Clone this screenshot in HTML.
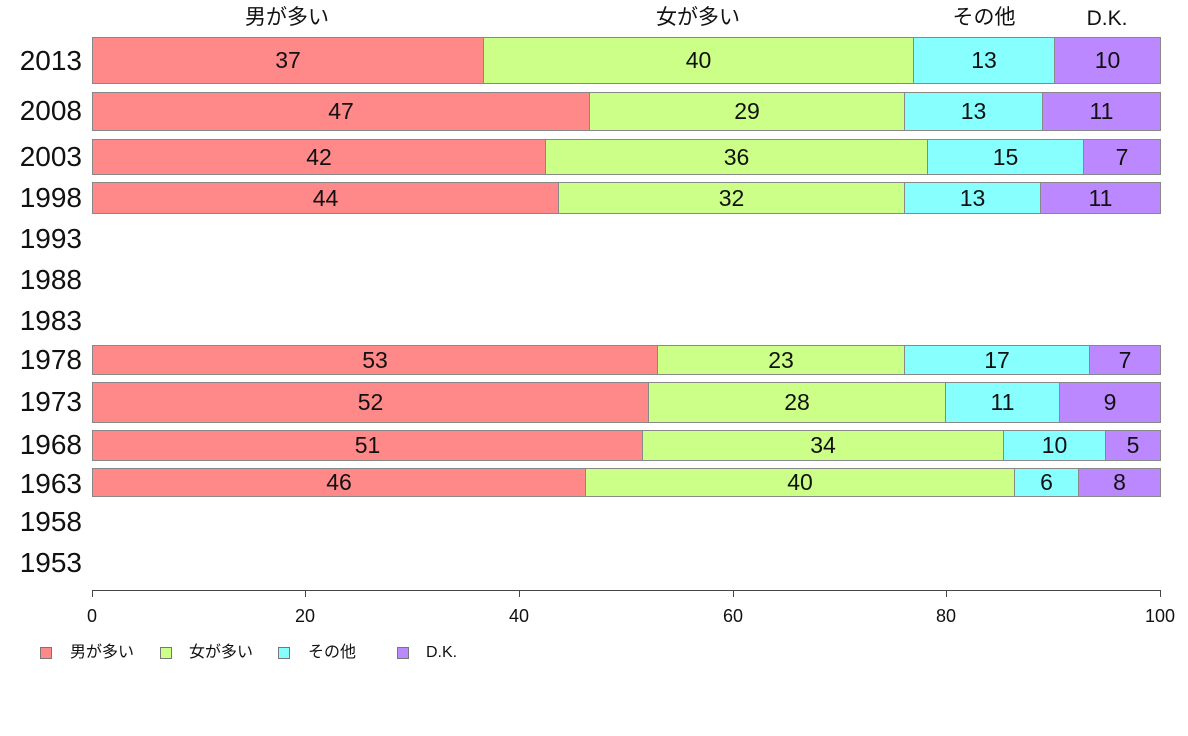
<!DOCTYPE html>
<html><head><meta charset="utf-8"><style>
body{margin:0;width:1188px;height:736px;background:#fff;position:relative;font-family:"Liberation Sans","Noto Sans CJK JP",sans-serif;overflow:hidden}
.a{position:absolute}
.yr{position:absolute;left:0;width:82px;text-align:right;font-size:28px;line-height:30px;color:#111}
.s{position:absolute;box-sizing:border-box;border:1px solid #888;font-size:23px;color:#111;display:flex;align-items:center;justify-content:center}
.r{background:#ff8888}.g{background:#ccff88}.c{background:#88ffff}.p{background:#bb88ff}
.hd{position:absolute;top:4px;height:28px;line-height:28px;font-size:21px;transform:translateX(-50%);color:#111}
.tk{position:absolute;top:590px;width:1px;height:7px;background:#444}
.tl{position:absolute;top:606px;font-size:18px;transform:translateX(-50%);color:#111}
.lg{position:absolute;top:647px;width:12px;height:12px;border:1px solid #777;box-sizing:border-box}
.lt{position:absolute;top:643px;height:20px;line-height:20px;font-size:16px;color:#111}
</style></head><body>
<div class="hd" style="left:287px">男が多い</div>
<div class="hd" style="left:698px">女が多い</div>
<div class="hd" style="left:984px">その他</div>
<div class="hd" style="left:1107px;top:5px">D.K.</div>

<div class="yr" style="top:46px">2013</div>
<div class="yr" style="top:96px">2008</div>
<div class="yr" style="top:142px">2003</div>
<div class="yr" style="top:183px">1998</div>
<div class="yr" style="top:224px">1993</div>
<div class="yr" style="top:265px">1988</div>
<div class="yr" style="top:306px">1983</div>
<div class="yr" style="top:345px">1978</div>
<div class="yr" style="top:387px">1973</div>
<div class="yr" style="top:430px">1968</div>
<div class="yr" style="top:469px">1963</div>
<div class="yr" style="top:507px">1958</div>
<div class="yr" style="top:548px">1953</div>

<div class="s r" style="left:92px;width:392px;top:37px;height:47px">37</div>
<div class="s g" style="left:483px;width:431px;top:37px;height:47px">40</div>
<div class="s c" style="left:913px;width:142px;top:37px;height:47px">13</div>
<div class="s p" style="left:1054px;width:107px;top:37px;height:47px">10</div>
<div class="s r" style="left:92px;width:498px;top:92px;height:39px">47</div>
<div class="s g" style="left:589px;width:316px;top:92px;height:39px">29</div>
<div class="s c" style="left:904px;width:139px;top:92px;height:39px">13</div>
<div class="s p" style="left:1042px;width:119px;top:92px;height:39px">11</div>
<div class="s r" style="left:92px;width:454px;top:139px;height:36px">42</div>
<div class="s g" style="left:545px;width:383px;top:139px;height:36px">36</div>
<div class="s c" style="left:927px;width:157px;top:139px;height:36px">15</div>
<div class="s p" style="left:1083px;width:78px;top:139px;height:36px">7</div>
<div class="s r" style="left:92px;width:467px;top:182px;height:32px">44</div>
<div class="s g" style="left:558px;width:347px;top:182px;height:32px">32</div>
<div class="s c" style="left:904px;width:137px;top:182px;height:32px">13</div>
<div class="s p" style="left:1040px;width:121px;top:182px;height:32px">11</div>
<div class="s r" style="left:92px;width:566px;top:345px;height:30px">53</div>
<div class="s g" style="left:657px;width:248px;top:345px;height:30px">23</div>
<div class="s c" style="left:904px;width:186px;top:345px;height:30px">17</div>
<div class="s p" style="left:1089px;width:72px;top:345px;height:30px">7</div>
<div class="s r" style="left:92px;width:557px;top:382px;height:41px">52</div>
<div class="s g" style="left:648px;width:298px;top:382px;height:41px">28</div>
<div class="s c" style="left:945px;width:115px;top:382px;height:41px">11</div>
<div class="s p" style="left:1059px;width:102px;top:382px;height:41px">9</div>
<div class="s r" style="left:92px;width:551px;top:430px;height:31px">51</div>
<div class="s g" style="left:642px;width:362px;top:430px;height:31px">34</div>
<div class="s c" style="left:1003px;width:103px;top:430px;height:31px">10</div>
<div class="s p" style="left:1105px;width:56px;top:430px;height:31px">5</div>
<div class="s r" style="left:92px;width:494px;top:468px;height:29px">46</div>
<div class="s g" style="left:585px;width:430px;top:468px;height:29px">40</div>
<div class="s c" style="left:1014px;width:65px;top:468px;height:29px">6</div>
<div class="s p" style="left:1078px;width:83px;top:468px;height:29px">8</div>

<div class="a" style="left:92px;top:590px;width:1069px;height:1px;background:#444"></div>
<div class="tk" style="left:92px"></div><div class="tk" style="left:305px"></div><div class="tk" style="left:519px"></div><div class="tk" style="left:733px"></div><div class="tk" style="left:946px"></div><div class="tk" style="left:1160px"></div>
<div class="tl" style="left:92px">0</div><div class="tl" style="left:305px">20</div><div class="tl" style="left:519px">40</div><div class="tl" style="left:733px">60</div><div class="tl" style="left:946px">80</div><div class="tl" style="left:1160px">100</div>

<div class="lg r" style="left:40px"></div><div class="lt" style="left:70px">男が多い</div>
<div class="lg g" style="left:160px"></div><div class="lt" style="left:189px">女が多い</div>
<div class="lg c" style="left:278px"></div><div class="lt" style="left:308px">その他</div>
<div class="lg p" style="left:397px"></div><div class="lt" style="left:426px">D.K.</div>
</body></html>
